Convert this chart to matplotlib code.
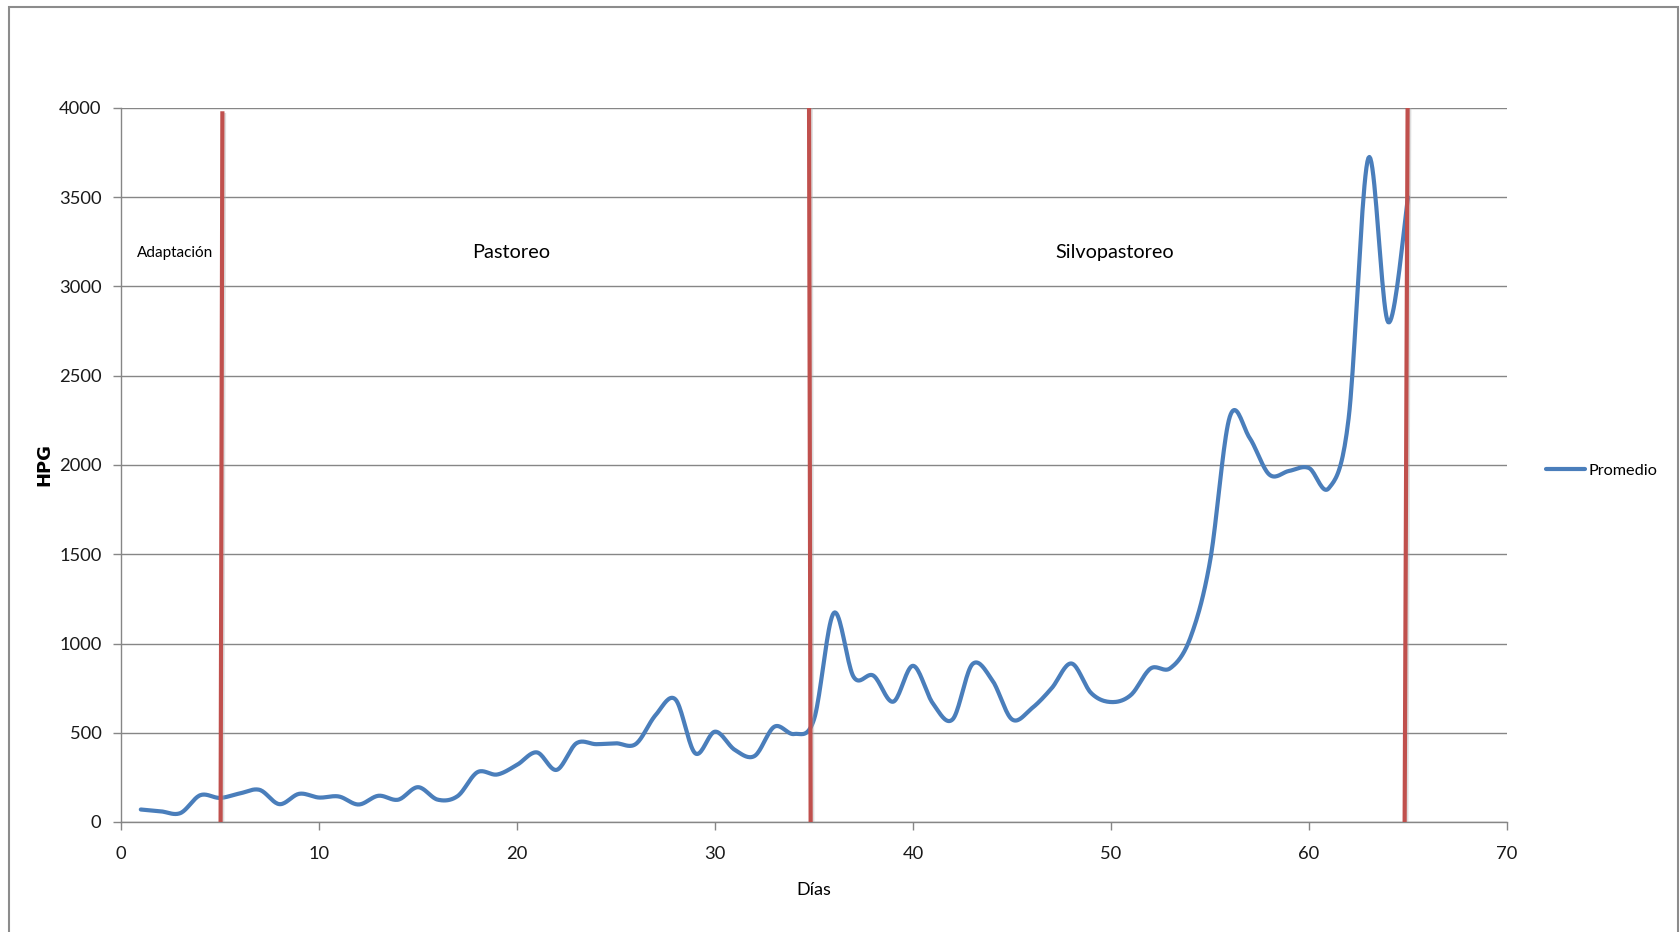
import numpy as np
import matplotlib.pyplot as plt
import matplotlib.patheffects as pe
from matplotlib.patches import Rectangle

plt.rcParams['font.family'] = ['Lato', 'DejaVu Sans']

# Promedio HPG por día
dias = list(range(1, 66))
promedio = [70, 60, 50, 150, 135, 160, 180, 100, 158, 137,
            143, 98, 147, 125, 195, 125, 145, 279, 266, 320,
            390, 292, 441, 436, 441, 437, 599, 687, 385, 506,
            404, 370, 534, 493, 575, 1171, 813, 820, 674, 875,
            665, 575, 884, 795, 575, 637, 749, 888, 722, 672,
            711, 860, 862, 1030, 1459, 2270, 2152, 1946, 1967, 1983,
            1870, 2260, 3720, 2800, 3500]

# limites de las etapas (día abajo, día arriba, altura)
limite_abajo = [5.03, 34.83, 64.83]
limite_arriba = [5.12, 34.75, 64.98]
limite_alto = [3970, 4000, 4000]

etapas = ['Adaptación', 'Pastoreo', 'Silvopastoreo']
etapa_x = [2.75, 19.7, 50.2]
etapa_y = [3190, 3190, 3190]
etapa_size = [11, 14.4, 14.3]


def suavizar(x, y, n=20):
    # curva suavizada tipo Excel (Catmull-Rom con Bezier)
    x = np.asarray(x, float)
    y = np.asarray(y, float)
    px = np.concatenate([[x[0]], x, [x[-1]]])
    py = np.concatenate([[y[0]], y, [y[-1]]])
    t = np.linspace(0, 1, n, endpoint=False)
    xs, ys = [], []
    for i in range(1, len(px) - 2):
        x0, x1, x2, x3 = px[i - 1:i + 3]
        y0, y1, y2, y3 = py[i - 1:i + 3]
        cx1, cy1 = x1 + (x2 - x0) / 6, y1 + (y2 - y0) / 6
        cx2, cy2 = x2 - (x3 - x1) / 6, y2 - (y3 - y1) / 6
        b0 = (1 - t) ** 3
        b1 = 3 * (1 - t) ** 2 * t
        b2 = 3 * (1 - t) * t ** 2
        b3 = t ** 3
        xs.append(b0 * x1 + b1 * cx1 + b2 * cx2 + b3 * x2)
        ys.append(b0 * y1 + b1 * cy1 + b2 * cy2 + b3 * y2)
    xs.append([x[-1]])
    ys.append([y[-1]])
    return np.concatenate(xs), np.concatenate(ys)


fig = plt.figure(figsize=(16.8, 9.32), dpi=100)
fig.patches.append(Rectangle((9 / 1680, -0.05), 1669 / 1680, 1.05 - 7 / 932,
                             transform=fig.transFigure, fill=False,
                             edgecolor='#8c8c8c', linewidth=1.5))
ax = fig.add_axes([121 / 1680, 110 / 932, 1386 / 1680, 714 / 932])

gris = '#868686'
ax.set_xlim(0, 70)
ax.set_ylim(0, 4000)
ax.set_xticks(range(0, 71, 10))
ax.set_yticks(range(0, 4001, 500))
ax.yaxis.grid(True, color=gris, linewidth=1.0)
ax.set_axisbelow(True)
for s in ['top', 'right']:
    ax.spines[s].set_visible(False)
for s in ['left', 'bottom']:
    ax.spines[s].set_color(gris)
    ax.spines[s].set_linewidth(1.0)
ax.tick_params(axis='both', colors=gris, labelcolor='#1a1a1a',
               labelsize=13.2, length=6, width=1.0)
ax.tick_params(axis='x', pad=11)
ax.tick_params(axis='y', pad=8)

# curva de promedio
sx, sy = suavizar(dias, promedio)
line1, = ax.plot(sx, sy, color='#4a7ebb', linewidth=3.0,
                 solid_capstyle='round', label='Promedio', zorder=3)

# lineas rojas de cada etapa
sombra = [pe.SimpleLineShadow(offset=(1.2, -1.2), shadow_color='#aaaaaa', alpha=0.4),
          pe.Normal()]
for xa, xb, h in zip(limite_abajo, limite_arriba, limite_alto):
    ax.plot([xa, xb], [0, h], color='#c0504d', linewidth=3.0,
            zorder=4, path_effects=sombra)

for txt, tx, ty, fs in zip(etapas, etapa_x, etapa_y, etapa_size):
    ax.text(tx, ty, txt, fontsize=fs, ha='center', va='center', color='black')

ax.set_xlabel('Días', fontsize=13, labelpad=15)
ax.set_ylabel('HPG', fontsize=13, fontweight='bold', labelpad=4,
              family=['DejaVu Sans'])

ax.legend(handles=[line1], loc='center left', bbox_to_anchor=(1.028, 0.492),
          frameon=False, fontsize=11.7, handlelength=2.4, handletextpad=0.25,
          borderpad=0, borderaxespad=0)

plt.savefig('out.png', dpi=100)
